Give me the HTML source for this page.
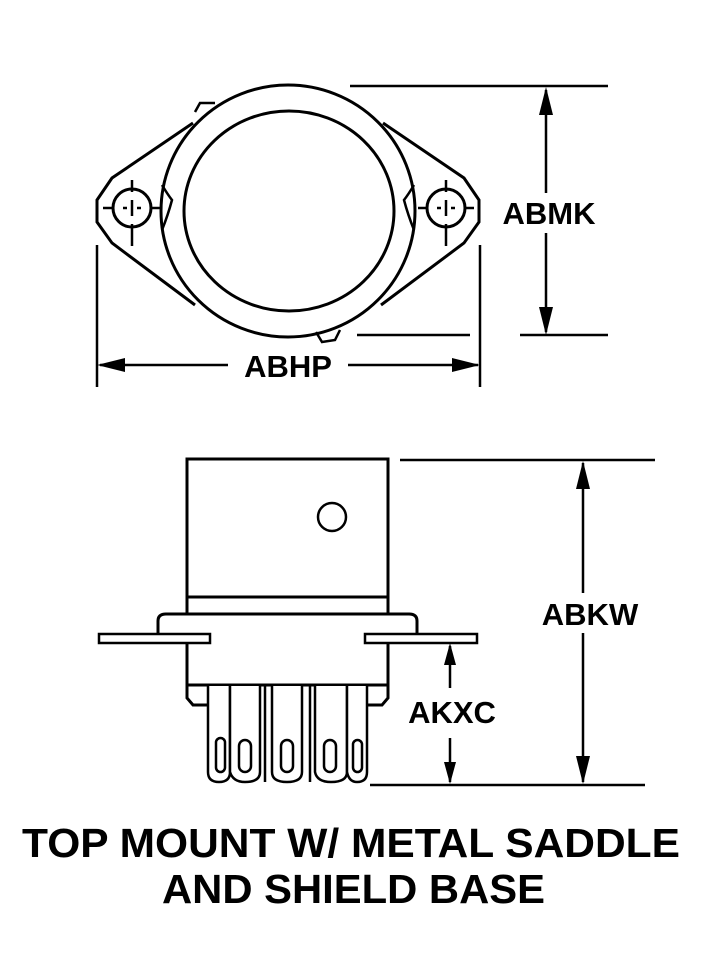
<!DOCTYPE html>
<html><head><style>html,body{margin:0;padding:0;background:#fff}svg{display:block}</style></head>
<body>
<svg width="708" height="972" viewBox="0 0 708 972" xmlns="http://www.w3.org/2000/svg" font-family="Liberation Sans, sans-serif" font-weight="bold">
<g fill="none" stroke="#000" stroke-width="3">
<path d="M193,123 L112,178 L97,200 L97,222 L112,243 L195,305"/>
<path d="M383,123 L464,178 L479,200 L479,222 L464,243 L381,305"/>
<ellipse cx="288" cy="211" rx="127" ry="126"/>
<ellipse cx="289" cy="211" rx="105" ry="100"/>
<path d="M162,185 Q168,195 172,200 Q168,215 162,230" stroke-width="2.5"/>
<path d="M414,185 Q408,195 404,200 Q408,215 414,230" stroke-width="2.5"/>
<path d="M195,112 L200,103 L215,103" stroke-width="2.5"/>
<path d="M316,332 L322,342 L335,340 L340,330" stroke-width="2.5"/>
<circle cx="132" cy="208" r="19"/>
<circle cx="446" cy="208" r="19"/>
</g>
<g stroke="#000" stroke-width="2.5">
<line x1="132" y1="180" x2="132" y2="192"/><line x1="132" y1="200" x2="132" y2="216"/><line x1="132" y1="224" x2="132" y2="246"/>
<line x1="103" y1="208" x2="114" y2="208"/><line x1="123" y1="208" x2="127" y2="208"/><line x1="137" y1="208" x2="141" y2="208"/><line x1="150" y1="208" x2="160" y2="208"/>
<line x1="446" y1="180" x2="446" y2="192"/><line x1="446" y1="200" x2="446" y2="216"/><line x1="446" y1="224" x2="446" y2="246"/>
<line x1="418" y1="208" x2="428" y2="208"/><line x1="437" y1="208" x2="441" y2="208"/><line x1="451" y1="208" x2="455" y2="208"/><line x1="464" y1="208" x2="474" y2="208"/>
<line x1="97" y1="245" x2="97" y2="387"/><line x1="480" y1="245" x2="480" y2="387"/>
<line x1="100" y1="365" x2="228" y2="365"/><line x1="348" y1="365" x2="478" y2="365"/>
<line x1="350" y1="86" x2="608" y2="86"/><line x1="357" y1="335" x2="470" y2="335"/><line x1="520" y1="335" x2="608" y2="335"/>
<line x1="546" y1="90" x2="546" y2="193"/><line x1="546" y1="233" x2="546" y2="332"/>
<line x1="400" y1="460" x2="655" y2="460"/><line x1="370" y1="785" x2="645" y2="785"/>
<line x1="583" y1="463" x2="583" y2="593"/><line x1="583" y1="633" x2="583" y2="782"/>
<line x1="450" y1="646" x2="450" y2="688"/><line x1="450" y1="738" x2="450" y2="782"/>
</g>
<g fill="#000">
<polygon points="97,365 125,358 125,372"/><polygon points="480,365 452,358 452,372"/>
<polygon points="546,87 539,115 553,115"/><polygon points="546,335 539,307 553,307"/>
<polygon points="583,461 576,489 590,489"/><polygon points="583,784 576,756 590,756"/>
<polygon points="450,643 444,665 456,665"/><polygon points="450,784 444,762 456,762"/>
</g>
<g fill="none" stroke="#000" stroke-width="3">
<rect x="187" y="459" width="201" height="155"/>
<line x1="187" y1="597" x2="388" y2="597"/>
<circle cx="332" cy="517" r="14" stroke-width="2.5"/>
<path d="M158,634 L158,621 Q158,614 166,614 L409,614 Q417,614 417,621 L417,634"/>
<rect x="99" y="634" width="111" height="9" stroke-width="2.5"/>
<rect x="365" y="634" width="112" height="9" stroke-width="2.5"/>
<path d="M187,643 L187,698 L193,705 L208,705"/>
<path d="M388,643 L388,698 L382,705 L367,705"/>
<line x1="187" y1="685" x2="388" y2="685"/>
</g>
<g fill="#fff" stroke="#000" stroke-width="2.5">
<path d="M208,686 L208,772 Q208,782 219,782 Q230,782 230,772 L230,686"/>
<path d="M230,686 L230,772 Q233,782 245,782 Q260,782 260,772 L260,686"/>
<path d="M272,686 L272,772 Q272,782 287,782 Q302,782 302,772 L302,686"/>
<path d="M315,686 L315,772 Q317,782 331,782 Q347,782 347,772 L347,686"/>
<path d="M347,686 L347,772 Q349,782 357,782 Q367,782 367,772 L367,686"/>
<rect x="216" y="738" width="9" height="34" rx="4.5"/>
<rect x="239" y="740" width="12" height="32" rx="6"/>
<rect x="281" y="740" width="12" height="32" rx="6"/>
<rect x="324" y="740" width="12" height="32" rx="6"/>
<rect x="353" y="740" width="9" height="32" rx="4.5"/>
<line x1="265" y1="686" x2="265" y2="782"/><line x1="310" y1="686" x2="310" y2="782"/>
</g>
<g font-size="31" text-anchor="middle">
<text x="288" y="377">ABHP</text>
<text x="549" y="224">ABMK</text>
<text x="590" y="625">ABKW</text>
<text x="452" y="723">AKXC</text>
</g>
<g font-size="41" font-family="Liberation Sans Narrow, Liberation Sans, sans-serif">
<text x="22" y="857" textLength="658" lengthAdjust="spacingAndGlyphs">TOP MOUNT W/ METAL SADDLE</text>
<text x="162" y="903" textLength="383" lengthAdjust="spacingAndGlyphs">AND SHIELD BASE</text>
</g>
</svg>
</body></html>
